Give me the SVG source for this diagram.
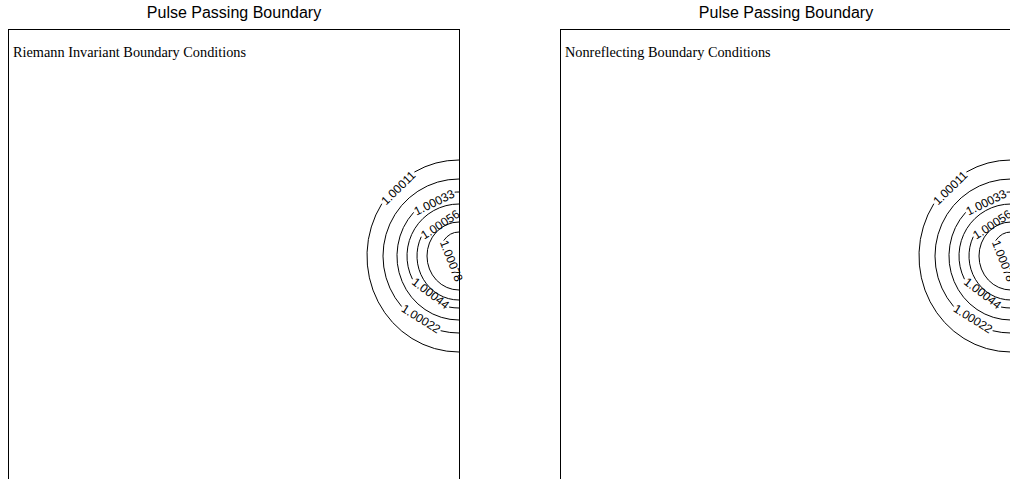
<svg xmlns="http://www.w3.org/2000/svg" width="1010" height="479" viewBox="0 0 1010 479">
<style>
.frame{fill:none;stroke:#000;stroke-width:1}
.ct{fill:none;stroke:#000;stroke-width:1}
.title{font-family:"Liberation Sans",Arial,sans-serif;font-size:16px;fill:#000;text-anchor:middle}
.sub{font-family:"Liberation Serif","Times New Roman",serif;font-size:14.3px;fill:#000}
.lbl{font-family:"Liberation Sans",Arial,sans-serif;font-size:12px;fill:#000;text-anchor:middle}
</style>
<rect width="1010" height="479" fill="#fff"/>
<g id="panel-left">
  <text class="title" x="234" y="18">Pulse Passing Boundary</text>
  <rect class="frame" x="8.5" y="29.5" width="451" height="500"/>
  <text class="sub" x="13" y="57">Riemann Invariant Boundary Conditions</text>
  <g id="contours-left">
    <path class="ct" d="M459,160 A92,96 0 0 0 414.40,172.04 M381.84,203.71 A92,96 0 0 0 459,352"/>
    <path class="ct" d="M459,179 A76,77 0 0 0 401.64,306.52 M440.61,330.71 A76,77 0 0 0 459,333"/>
    <path class="ct" d="M459,192 A62,64 0 0 0 454.67,192.16 M413.66,212.35 A62,64 0 0 0 459,320"/>
    <path class="ct" d="M459,204 A52,52 0 0 0 412.46,279.20 M449.08,307.04 A52,52 0 0 0 459,308"/>
    <path class="ct" d="M421.25,236.71 A42,44 0 0 0 459,300"/>
    <path class="ct" d="M459,222 A32,34 0 0 0 427,256 A32,34 0 0 0 459,290"/>
    <path class="ct" d="M459,232 A20,24 0 0 0 443.68,240.57"/>
  </g>
  <g id="labels-left">
    <text class="lbl" dy="0.36em" transform="translate(398.12,187.88) rotate(-44.2)">1.00011</text>
    <text class="lbl" dy="0.36em" transform="translate(421.13,318.62) rotate(31.8)">1.00022</text>
    <text class="lbl" dy="0.36em" transform="translate(434.17,202.26) rotate(-26.2)">1.00033</text>
    <text class="lbl" dy="0.36em" transform="translate(430.77,293.12) rotate(37.2)">1.00044</text>
    <text class="lbl" dy="0.36em" transform="translate(440.13,224.36) rotate(-33.2)">1.00056</text>
    <text class="lbl" dy="0.36em" transform="translate(451.59,260.79) rotate(68.6)">1.00078</text>
  </g>
</g>
<g id="panel-right">
  <text class="title" x="786" y="18">Pulse Passing Boundary</text>
  <rect class="frame" x="560.5" y="29.5" width="451" height="500"/>
  <text class="sub" x="565" y="57">Nonreflecting Boundary Conditions</text>
  <g id="contours-right">
    <path class="ct" d="M1011,160 A92,96 0 0 0 966.40,172.04 M933.84,203.71 A92,96 0 0 0 1011,352"/>
    <path class="ct" d="M1011,179 A76,77 0 0 0 953.64,306.52 M992.61,330.71 A76,77 0 0 0 1011,333"/>
    <path class="ct" d="M1011,192 A62,64 0 0 0 1006.67,192.16 M965.66,212.35 A62,64 0 0 0 1011,320"/>
    <path class="ct" d="M1011,204 A52,52 0 0 0 964.46,279.20 M1001.08,307.04 A52,52 0 0 0 1011,308"/>
    <path class="ct" d="M973.25,236.71 A42,44 0 0 0 1011,300"/>
    <path class="ct" d="M1011,222 A32,34 0 0 0 979,256 A32,34 0 0 0 1011,290"/>
    <path class="ct" d="M1011,232 A20,24 0 0 0 995.68,240.57"/>
  </g>
  <g id="labels-right">
    <text class="lbl" dy="0.36em" transform="translate(950.12,187.88) rotate(-44.2)">1.00011</text>
    <text class="lbl" dy="0.36em" transform="translate(973.13,318.62) rotate(31.8)">1.00022</text>
    <text class="lbl" dy="0.36em" transform="translate(986.17,202.26) rotate(-26.2)">1.00033</text>
    <text class="lbl" dy="0.36em" transform="translate(982.77,293.12) rotate(37.2)">1.00044</text>
    <text class="lbl" dy="0.36em" transform="translate(992.13,224.36) rotate(-33.2)">1.00056</text>
    <text class="lbl" dy="0.36em" transform="translate(1003.59,260.79) rotate(68.6)">1.00078</text>
  </g>
</g>
</svg>
